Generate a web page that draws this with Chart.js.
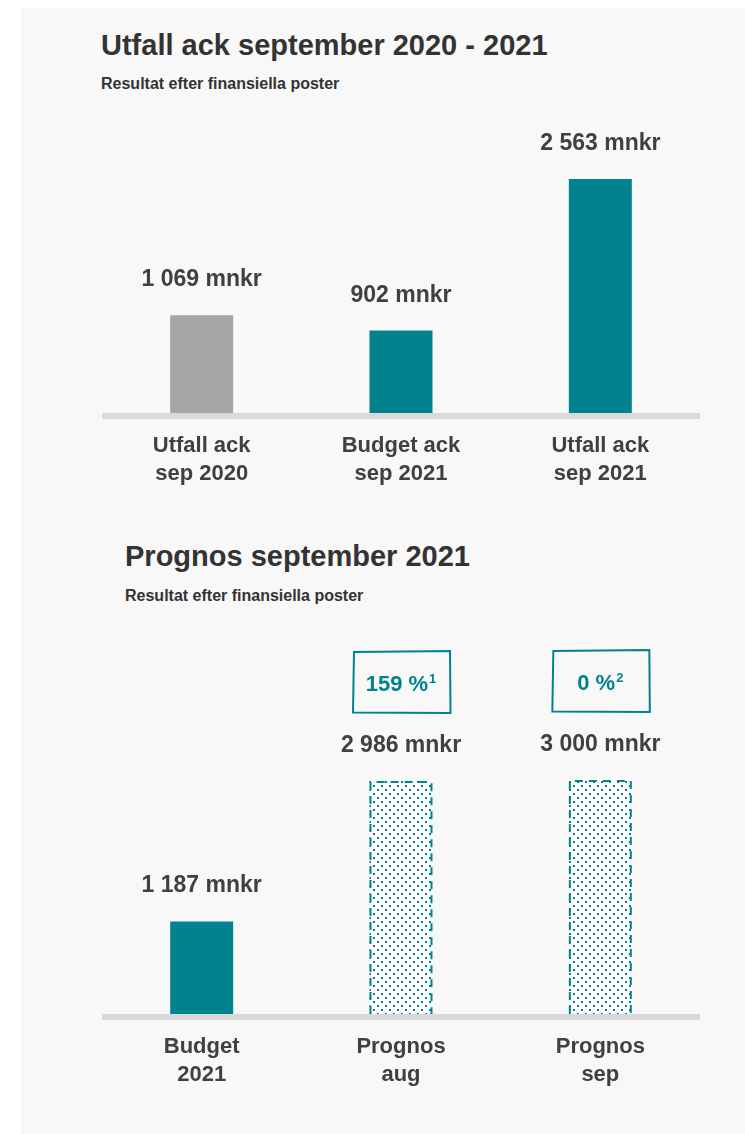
<!DOCTYPE html>
<html>
<head>
<meta charset="utf-8">
<script src="https://cdn.jsdelivr.net/npm/chart.js@4"></script>
<style>
  html, body { margin: 0; padding: 0; background: #ffffff; }
  body { width: 745px; height: 1134px; position: relative; overflow: hidden; font-family: "Liberation Sans", Arial, sans-serif; }
  .panel { position: absolute; left: 21px; top: 8px; right: 0; bottom: 0; background: #f8f8f8; }
  .title { position: absolute; font-size: 29px; line-height: 29px; font-weight: bold; color: #333333; white-space: nowrap; }
  .sub { position: absolute; font-size: 16px; line-height: 16px; font-weight: bold; color: #333333; white-space: nowrap; }
  .box { position: absolute; left: 0; width: 745px; }
</style>
</head>
<body>
<div class="panel"></div>
<div class="title" style="left:101px; top:31px;">Utfall ack september 2020 - 2021</div>
<div class="sub" style="left:101px; top:76px;">Resultat efter finansiella poster</div>
<div class="title" style="left:125px; top:542px;">Prognos september 2021</div>
<div class="sub" style="left:125px; top:588px;">Resultat efter finansiella poster</div>
<div class="box" style="top:100px; height:410px;"><canvas id="chart1"></canvas></div>
<div class="box" style="top:620px; height:490px;"><canvas id="chart2"></canvas></div>
<script>
const topCategories = [['Utfall ack', 'sep 2020'], ['Budget ack', 'sep 2021'], ['Utfall ack', 'sep 2021']];
const topValues = [1069, 902, 2563];
const topMax = 3000;

const bottomCategories = [['Budget', '2021'], ['Prognos', 'aug'], ['Prognos', 'sep']];
const bottomValues = [1187, 2986, 3000];
const bottomMax = 3500;

// change vs. budget, with footnote number
const changePct = ['', '159 %', '0 %'];
const changeNote = ['', '1', '2'];

const teal = '#00838f';
const grey = '#a6a6a6';
const textColor = '#404040';
const fontFamily = '"Liberation Sans", Arial, sans-serif';

function mnkr(v) {
    return String(v).replace(/\B(?=(\d{3})+(?!\d))/g, ' ') + ' mnkr';
}

function dotPattern() {
    const c = document.createElement('canvas');
    c.width = 8;
    c.height = 8;
    const g = c.getContext('2d');
    g.fillStyle = '#ffffff';
    g.fillRect(0, 0, 8, 8);
    g.fillStyle = teal;
    g.fillRect(1, 1, 2, 2);
    g.fillRect(5, 5, 2, 2);
    return g.createPattern(c, 'repeat');
}

const baselinePlugin = {
    id: 'baseline',
    beforeDatasetsDraw(chart) {
        const { ctx, chartArea } = chart;
        const y0 = chart.scales.y.getPixelForValue(0);
        ctx.save();
        ctx.fillStyle = '#d9d9d9';
        ctx.fillRect(chartArea.left, y0, chartArea.right - chartArea.left, 6);
        ctx.restore();
    }
};

const valueLabelPlugin = {
    id: 'valueLabels',
    afterDatasetsDraw(chart) {
        const { ctx } = chart;
        const ds = chart.data.datasets[0];
        ctx.save();
        ctx.fillStyle = textColor;
        ctx.font = 'bold 23px ' + fontFamily;
        ctx.textAlign = 'center';
        ctx.textBaseline = 'alphabetic';
        chart.getDatasetMeta(0).data.forEach((bar, i) => {
            ctx.fillText(mnkr(ds.data[i]), bar.x, bar.y - 29);
        });
        ctx.restore();
    }
};

const dashedBarPlugin = {
    id: 'dashedBars',
    afterDatasetsDraw(chart) {
        const { ctx } = chart;
        const dashed = chart.data.datasets[0].dashed || [];
        ctx.save();
        ctx.strokeStyle = teal;
        ctx.lineWidth = 2;
        ctx.setLineDash([8, 6]);
        chart.getDatasetMeta(0).data.forEach((bar, i) => {
            if (!dashed[i]) return;
            const l = bar.x - bar.width / 2 + 1;
            const r = bar.x + bar.width / 2 - 1;
            ctx.beginPath();
            ctx.moveTo(l, bar.base);
            ctx.lineTo(l, bar.y + 1);
            ctx.lineTo(r, bar.y + 1);
            ctx.lineTo(r, bar.base);
            ctx.stroke();
        });
        ctx.restore();
    }
};

const changeBoxPlugin = {
    id: 'changeBoxes',
    afterDatasetsDraw(chart) {
        const { ctx } = chart;
        ctx.save();
        chart.getDatasetMeta(0).data.forEach((bar, i) => {
            if (!changePct[i]) return;
            const cx = bar.x;
            const cy = bar.y - 99;
            const x0 = cx - 48, x1 = cx + 49, y0 = cy - 31, y1 = cy + 31;
            // slightly hand drawn frame
            ctx.strokeStyle = teal;
            ctx.lineWidth = 2;
            ctx.beginPath();
            ctx.moveTo(x0 + 1, y0 + 1);
            ctx.lineTo(x1, y0);
            ctx.lineTo(x1 + 0.5, y1);
            ctx.lineTo(x0, y1 - 0.5);
            ctx.closePath();
            ctx.stroke();

            ctx.fillStyle = teal;
            ctx.textBaseline = 'alphabetic';
            ctx.textAlign = 'left';
            ctx.font = 'bold 22px ' + fontFamily;
            const w1 = ctx.measureText(changePct[i]).width;
            ctx.font = 'bold 13px ' + fontFamily;
            const w2 = ctx.measureText(changeNote[i]).width + 1;
            const sx = cx - (w1 + w2) / 2;
            ctx.font = 'bold 22px ' + fontFamily;
            ctx.fillText(changePct[i], sx, cy + 9);
            ctx.font = 'bold 13px ' + fontFamily;
            ctx.fillText(changeNote[i], sx + w1 + 1, cy + 1);
        });
        ctx.restore();
    }
};

function barOptions(max, padTop, axisHeight) {
    return {
        responsive: true,
        maintainAspectRatio: false,
        animation: false,
        layout: { padding: { left: 102, right: 45, top: padTop, bottom: 0 } },
        plugins: { legend: { display: false }, tooltip: { enabled: false } },
        scales: {
            x: {
                grid: { display: false, drawTicks: false },
                border: { display: false },
                ticks: {
                    color: textColor,
                    font: { family: fontFamily, size: 22, weight: 'bold', lineHeight: 1.27 },
                    padding: 19,
                    maxRotation: 0,
                    autoSkip: false
                },
                afterFit(scale) { scale.height = axisHeight; }
            },
            y: { display: false, min: 0, max: max }
        }
    };
}

new Chart(document.getElementById('chart1').getContext('2d'), {
    type: 'bar',
    data: {
        labels: topCategories,
        datasets: [{
            data: topValues,
            backgroundColor: [grey, teal, teal],
            borderWidth: 0,
            categoryPercentage: 1,
            barPercentage: 0.316
        }]
    },
    options: barOptions(topMax, 39, 97),
    plugins: [baselinePlugin, valueLabelPlugin]
});

const pattern = dotPattern();
new Chart(document.getElementById('chart2').getContext('2d'), {
    type: 'bar',
    data: {
        labels: bottomCategories,
        datasets: [{
            data: bottomValues,
            backgroundColor: [teal, pattern, pattern],
            dashed: [false, true, true],
            borderWidth: 0,
            categoryPercentage: 1,
            barPercentage: 0.316
        }]
    },
    options: barOptions(bottomMax, 121, 96),
    plugins: [baselinePlugin, valueLabelPlugin, dashedBarPlugin, changeBoxPlugin]
});
</script>
</body>
</html>
